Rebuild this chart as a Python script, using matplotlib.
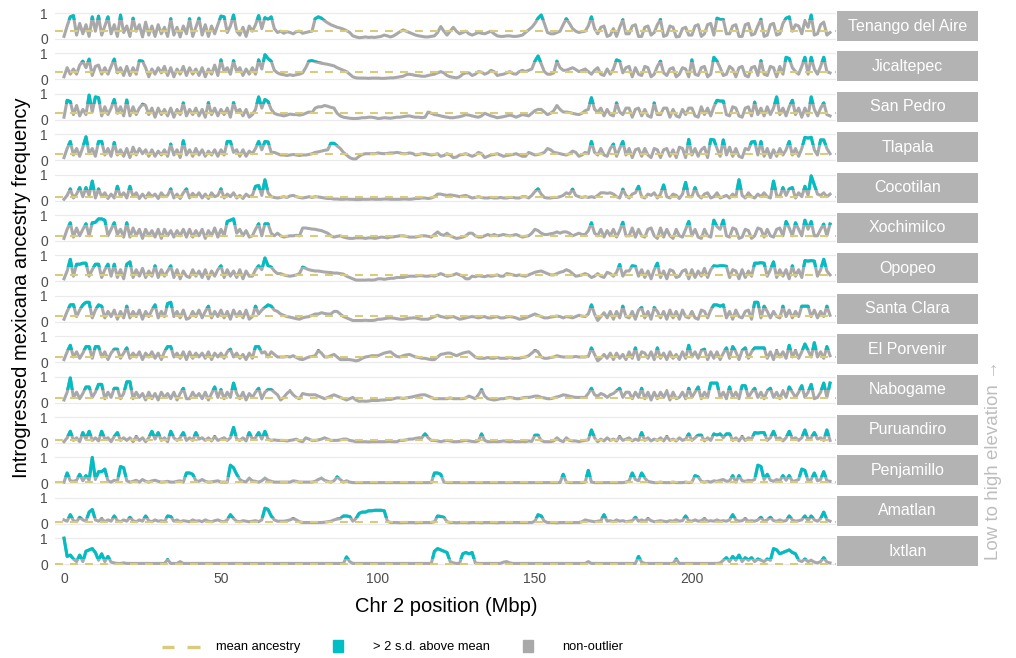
import numpy as np
import matplotlib
matplotlib.use("Agg")
import matplotlib.pyplot as plt
from matplotlib.patches import Rectangle

plt.rcParams['font.family'] = ['Liberation Sans', 'DejaVu Sans']

# ---------------- data: ancestry frequency (%) every 1 Mbp, 0..244 Mbp ----------------
position_mbp = np.arange(0, 245, 1)

tenango = [10, 50, 85, 90, 15, 60, 20, 55, 10, 85, 30, 88, 15, 50, 85, 20, 55, 10, 92, 25,
           50, 10, 80, 30, 55, 8, 65, 15, 50, 10, 55, 20, 45, 10, 78, 15, 45, 8, 50, 20,
           78, 10, 45, 80, 15, 55, 10, 50, 20, 55, 88, 85, 25, 50, 92, 30, 15, 45, 10, 50,
           30, 55, 90, 40, 82, 75, 85, 40, 25, 30, 22, 28, 25, 20, 28, 30, 22, 25, 28, 30,
           78, 85, 80, 70, 62, 55, 50, 45, 42, 38, 32, 25, 12, 8, 5, 6, 8, 6, 7, 6,
           8, 10, 15, 12, 8, 12, 20, 28, 35, 30, 25, 20, 15, 12, 10, 8, 8, 10, 12, 25,
           48, 30, 15, 30, 45, 30, 20, 25, 30, 20, 15, 20, 25, 22, 20, 25, 30, 20, 12, 10,
           10, 12, 12, 10, 10, 12, 15, 25, 35, 45, 60, 80, 92, 60, 25, 20, 20, 25, 30, 55,
           78, 60, 40, 30, 25, 28, 30, 50, 85, 40, 20, 45, 50, 10, 15, 40, 10, 45, 74, 20,
           20, 50, 55, 10, 10, 45, 50, 15, 25, 55, 75, 10, 15, 50, 45, 8, 10, 40, 45, 15,
           15, 50, 55, 10, 20, 55, 60, 15, 80, 75, 75, 20, 20, 50, 55, 10, 10, 55, 60, 15,
           20, 50, 76, 10, 15, 55, 60, 15, 20, 60, 80, 85, 30, 55, 50, 20, 70, 45, 92, 15,
           20, 55, 65, 15, 25]
jicaltepec = [10, 45, 20, 40, 20, 55, 70, 45, 78, 15, 50, 55, 20, 45, 20, 50, 78, 25, 45, 15,
              50, 15, 45, 20, 72, 70, 45, 10, 40, 20, 45, 25, 50, 15, 45, 10, 40, 20, 50, 15,
              45, 20, 40, 15, 45, 10, 40, 20, 55, 15, 75, 30, 45, 20, 72, 30, 45, 15, 40, 20,
              45, 20, 75, 40, 95, 80, 70, 35, 25, 20, 18, 15, 18, 15, 18, 20, 25, 45, 70, 72,
              68, 65, 62, 60, 58, 55, 52, 45, 40, 35, 30, 20, 10, 6, 5, 5, 5, 4, 5, 5,
              5, 4, 4, 5, 6, 6, 8, 10, 12, 18, 20, 18, 15, 14, 12, 12, 15, 18, 20, 25,
              30, 25, 15, 10, 8, 6, 10, 20, 25, 25, 15, 20, 30, 28, 20, 25, 35, 30, 15, 18,
              20, 25, 30, 22, 20, 30, 35, 30, 35, 40, 70, 90, 60, 30, 20, 20, 25, 70, 45, 35,
              35, 40, 45, 38, 30, 35, 40, 30, 20, 35, 45, 20, 15, 40, 20, 40, 75, 70, 25, 45,
              50, 10, 45, 20, 15, 50, 45, 10, 20, 50, 70, 25, 15, 40, 45, 10, 20, 45, 40, 10,
              75, 20, 15, 45, 50, 10, 20, 85, 70, 45, 15, 20, 50, 40, 10, 45, 50, 15, 10, 45,
              50, 15, 72, 20, 15, 50, 45, 10, 50, 20, 85, 80, 45, 30, 20, 50, 85, 20, 85, 40,
              20, 50, 85, 30, 25]
san_pedro = [10, 75, 70, 20, 55, 15, 40, 20, 95, 30, 88, 85, 15, 50, 20, 45, 78, 25, 50, 15,
             76, 15, 50, 20, 45, 60, 55, 20, 45, 10, 45, 20, 40, 15, 45, 10, 40, 20, 65, 15,
             40, 20, 45, 15, 40, 10, 66, 20, 45, 15, 40, 20, 45, 10, 66, 30, 40, 15, 40, 10,
             20, 40, 88, 45, 78, 70, 40, 25, 20, 18, 15, 18, 22, 20, 20, 18, 20, 25, 30, 28,
             45, 50, 50, 55, 52, 48, 45, 25, 15, 10, 8, 6, 5, 5, 6, 8, 8, 10, 10, 8,
             5, 6, 8, 7, 6, 8, 10, 10, 12, 14, 15, 12, 10, 10, 8, 10, 30, 25, 20, 18,
             15, 12, 10, 8, 8, 10, 12, 15, 20, 18, 15, 12, 10, 15, 25, 20, 15, 12, 8, 10,
             12, 15, 18, 15, 10, 15, 20, 18, 15, 25, 35, 40, 40, 30, 20, 25, 35, 55, 40, 30,
             30, 28, 25, 22, 20, 25, 35, 40, 85, 40, 30, 45, 15, 40, 20, 15, 65, 30, 20, 45,
             45, 10, 40, 45, 15, 40, 15, 10, 65, 20, 20, 45, 45, 10, 40, 15, 10, 40, 20, 45,
             45, 15, 10, 50, 20, 45, 15, 50, 75, 72, 72, 20, 15, 50, 45, 15, 10, 45, 50, 15,
             68, 20, 45, 15, 50, 20, 45, 88, 20, 45, 15, 50, 75, 20, 45, 10, 45, 15, 88, 40,
             15, 45, 65, 20, 15]
tlapala = [10, 45, 72, 20, 45, 15, 50, 90, 25, 45, 15, 72, 72, 20, 45, 15, 68, 20, 40, 15,
           45, 10, 50, 20, 45, 25, 40, 15, 40, 15, 35, 20, 40, 15, 62, 20, 40, 10, 75, 20,
           40, 15, 45, 20, 40, 15, 35, 20, 40, 15, 40, 20, 72, 72, 30, 40, 15, 40, 15, 35,
           25, 45, 72, 40, 72, 70, 30, 30, 25, 20, 20, 18, 20, 22, 20, 18, 20, 20, 22, 25,
           30, 32, 35, 38, 40, 65, 65, 55, 45, 30, 20, 10, 5, 5, 15, 22, 25, 25, 25, 25,
           28, 26, 25, 26, 28, 28, 30, 28, 25, 25, 28, 26, 20, 22, 25, 25, 22, 20, 22, 25,
           15, 18, 25, 20, 10, 12, 20, 22, 25, 20, 15, 20, 30, 25, 10, 15, 20, 22, 25, 20,
           15, 18, 20, 22, 25, 20, 15, 15, 30, 25, 20, 22, 25, 30, 45, 40, 30, 28, 25, 22,
           20, 25, 35, 30, 15, 20, 30, 25, 72, 30, 20, 45, 20, 15, 45, 62, 15, 45, 72, 20,
           45, 10, 40, 45, 15, 45, 20, 10, 45, 40, 10, 40, 45, 15, 40, 10, 50, 45, 10, 80,
           20, 45, 15, 40, 50, 10, 80, 78, 45, 15, 78, 20, 50, 15, 45, 15, 10, 45, 40, 70,
           72, 20, 72, 15, 45, 10, 40, 15, 45, 20, 40, 72, 20, 45, 15, 45, 88, 85, 88, 40,
           20, 78, 78, 45, 25]
cocotilan = [5, 20, 45, 10, 25, 50, 15, 50, 20, 75, 10, 45, 15, 30, 8, 25, 10, 55, 15, 30,
             10, 55, 15, 30, 8, 25, 10, 30, 15, 25, 8, 30, 15, 20, 45, 10, 25, 8, 30, 45,
             10, 28, 15, 30, 10, 25, 8, 30, 15, 20, 45, 10, 25, 15, 30, 10, 20, 8, 25, 15,
             20, 55, 58, 20, 80, 30, 15, 12, 10, 12, 15, 12, 18, 20, 15, 12, 10, 12, 15, 12,
             15, 14, 12, 10, 8, 8, 6, 6, 5, 5, 6, 5, 5, 4, 4, 5, 5, 5, 6, 5,
             5, 5, 6, 6, 5, 5, 5, 5, 6, 6, 5, 6, 8, 8, 10, 10, 8, 10, 15, 25,
             25, 22, 20, 22, 20, 18, 15, 18, 20, 15, 10, 12, 15, 12, 10, 10, 12, 10, 10, 12,
             10, 10, 12, 12, 10, 10, 15, 15, 10, 20, 35, 45, 25, 12, 10, 10, 12, 12, 15, 20,
             30, 25, 44, 20, 15, 12, 15, 12, 15, 12, 20, 30, 30, 28, 30, 25, 15, 10, 44, 20,
             10, 25, 30, 55, 15, 10, 25, 20, 30, 10, 25, 60, 15, 10, 25, 20, 8, 25, 70, 15,
             15, 50, 20, 10, 25, 30, 10, 15, 30, 10, 15, 20, 10, 25, 15, 80, 20, 10, 30, 15,
             10, 25, 15, 30, 15, 10, 75, 20, 15, 50, 20, 45, 50, 10, 30, 15, 55, 20, 95, 60,
             25, 20, 30, 15, 25]
xochimilco = [10, 45, 70, 15, 50, 20, 45, 66, 20, 70, 72, 85, 85, 80, 20, 45, 70, 25, 45, 15,
              70, 15, 50, 20, 45, 10, 45, 20, 40, 15, 45, 10, 45, 20, 40, 15, 40, 20, 45, 15,
              45, 15, 40, 20, 45, 10, 40, 20, 50, 15, 45, 20, 75, 80, 85, 30, 45, 20, 40, 15,
              20, 45, 66, 20, 66, 66, 30, 20, 30, 20, 15, 18, 20, 20, 22, 20, 50, 50, 48, 46,
              45, 42, 40, 35, 30, 20, 15, 18, 20, 15, 12, 10, 10, 12, 12, 12, 10, 12, 12, 10,
              12, 15, 14, 12, 15, 16, 18, 20, 20, 18, 15, 15, 15, 18, 20, 20, 18, 15, 25, 35,
              25, 22, 30, 20, 15, 10, 12, 15, 20, 30, 30, 20, 15, 15, 20, 25, 20, 25, 20, 22,
              25, 22, 20, 22, 25, 20, 15, 18, 20, 30, 45, 40, 30, 25, 25, 28, 30, 35, 30, 35,
              35, 30, 20, 25, 30, 25, 25, 40, 70, 30, 20, 45, 15, 40, 20, 45, 15, 40, 72, 20,
              20, 50, 15, 45, 20, 15, 45, 50, 20, 10, 50, 15, 45, 20, 10, 45, 20, 15, 45, 75,
              20, 45, 15, 10, 45, 20, 15, 80, 55, 45, 80, 20, 15, 50, 45, 10, 15, 45, 40, 10,
              20, 50, 45, 15, 45, 20, 15, 45, 50, 20, 75, 50, 20, 70, 45, 20, 80, 45, 75, 20,
              20, 45, 65, 20, 65]
opopeo = [10, 40, 85, 20, 66, 66, 70, 70, 20, 45, 66, 66, 15, 45, 66, 20, 66, 15, 45, 10,
          66, 75, 15, 45, 20, 50, 15, 40, 20, 60, 15, 45, 20, 40, 60, 15, 45, 10, 40, 20,
          15, 45, 20, 40, 15, 45, 10, 40, 20, 45, 60, 15, 45, 20, 40, 15, 45, 10, 40, 20,
          20, 45, 60, 45, 90, 60, 55, 40, 30, 30, 25, 22, 20, 22, 25, 30, 55, 50, 45, 42,
          40, 40, 38, 36, 35, 34, 32, 32, 30, 28, 20, 15, 10, 5, 5, 5, 5, 6, 5, 6,
          10, 10, 8, 10, 12, 12, 15, 15, 15, 18, 20, 20, 20, 22, 22, 20, 20, 22, 20, 25,
          30, 25, 20, 22, 25, 30, 25, 20, 10, 10, 20, 18, 22, 20, 18, 22, 20, 22, 25, 20,
          20, 30, 28, 25, 22, 25, 22, 20, 25, 30, 35, 38, 40, 35, 30, 25, 25, 30, 35, 38,
          45, 40, 30, 20, 22, 25, 30, 25, 15, 20, 30, 20, 15, 35, 30, 20, 35, 65, 20, 40,
          40, 60, 58, 20, 45, 15, 40, 10, 45, 70, 15, 40, 10, 45, 40, 15, 20, 40, 45, 10,
          45, 15, 40, 20, 50, 15, 45, 60, 58, 60, 60, 58, 15, 45, 40, 10, 45, 15, 40, 20,
          70, 70, 72, 70, 20, 45, 75, 15, 45, 20, 45, 10, 60, 20, 45, 15, 80, 78, 80, 78,
          20, 45, 85, 40, 25]
santa_clara = [10, 40, 65, 66, 20, 45, 65, 75, 75, 15, 45, 65, 60, 15, 40, 20, 45, 10, 40, 15,
               60, 15, 40, 20, 45, 10, 40, 20, 45, 65, 15, 40, 20, 70, 75, 20, 40, 15, 45, 10,
               15, 40, 20, 45, 15, 40, 60, 15, 40, 20, 45, 15, 40, 10, 45, 20, 40, 15, 45, 10,
               20, 60, 30, 45, 55, 65, 60, 45, 40, 30, 25, 20, 18, 15, 12, 10, 15, 18, 20, 25,
               30, 30, 35, 32, 30, 30, 40, 40, 30, 20, 15, 10, 5, 5, 5, 5, 6, 5, 5, 6,
               10, 10, 12, 14, 15, 14, 12, 10, 10, 12, 14, 15, 15, 12, 10, 10, 10, 15, 20, 25,
               20, 18, 15, 18, 20, 15, 10, 12, 15, 18, 20, 18, 15, 18, 20, 15, 15, 18, 20, 15,
               15, 18, 20, 18, 15, 10, 12, 15, 20, 25, 30, 25, 20, 15, 15, 18, 20, 22, 20, 15,
               20, 18, 15, 20, 25, 22, 20, 30, 65, 30, 5, 20, 35, 15, 40, 10, 40, 15, 60, 20,
               15, 40, 10, 45, 55, 15, 40, 10, 55, 40, 15, 40, 10, 45, 15, 40, 10, 45, 20, 15,
               40, 15, 10, 45, 40, 15, 45, 65, 65, 60, 65, 15, 40, 10, 45, 20, 15, 40, 45, 10,
               75, 75, 15, 60, 40, 15, 40, 20, 15, 60, 20, 45, 15, 40, 20, 60, 60, 60, 20, 45,
               15, 40, 20, 60, 25]
el_porvenir = [10, 40, 65, 20, 40, 15, 35, 60, 60, 15, 60, 60, 20, 40, 10, 35, 50, 50, 15, 35,
               55, 15, 35, 20, 40, 10, 35, 20, 40, 15, 35, 10, 40, 60, 60, 20, 35, 15, 40, 10,
               40, 15, 35, 20, 35, 15, 40, 10, 35, 20, 35, 15, 40, 50, 20, 35, 15, 30, 10, 35,
               15, 60, 60, 35, 40, 20, 40, 30, 20, 20, 20, 22, 20, 25, 18, 12, 10, 15, 20, 22,
               25, 45, 35, 20, 20, 25, 30, 20, 10, 10, 10, 10, 8, 5, 8, 15, 20, 22, 25, 25,
               25, 30, 35, 38, 40, 30, 22, 20, 25, 28, 30, 25, 20, 18, 15, 15, 12, 10, 10, 20,
               30, 32, 35, 35, 30, 25, 30, 35, 38, 40, 30, 20, 15, 15, 15, 18, 15, 15, 18, 15,
               15, 15, 18, 15, 15, 15, 18, 20, 25, 35, 45, 40, 20, 15, 15, 18, 20, 25, 22, 20,
               20, 20, 20, 22, 20, 20, 20, 22, 55, 30, 5, 15, 30, 15, 35, 10, 35, 15, 30, 10,
               40, 15, 55, 10, 40, 35, 15, 40, 10, 55, 15, 35, 10, 40, 15, 30, 10, 40, 15, 65,
               20, 40, 15, 45, 50, 10, 40, 15, 40, 10, 35, 55, 15, 60, 40, 10, 45, 55, 15, 40,
               55, 55, 55, 55, 15, 40, 10, 45, 20, 40, 15, 65, 20, 45, 15, 40, 70, 45, 20, 75,
               20, 40, 15, 60, 25]
nabogame = [10, 40, 95, 20, 40, 15, 35, 60, 60, 20, 40, 70, 70, 15, 40, 20, 55, 55, 15, 35,
            80, 80, 15, 40, 20, 35, 10, 40, 15, 35, 10, 40, 20, 35, 15, 40, 10, 35, 55, 15,
            15, 40, 20, 35, 15, 40, 10, 35, 60, 20, 50, 15, 40, 20, 75, 35, 15, 40, 10, 35,
            20, 40, 55, 15, 40, 50, 50, 40, 30, 10, 20, 35, 45, 30, 20, 15, 35, 32, 30, 30,
            30, 25, 20, 15, 20, 25, 30, 25, 20, 15, 10, 15, 20, 10, 5, 6, 5, 6, 8, 8,
            8, 10, 10, 12, 12, 15, 18, 18, 16, 18, 20, 22, 25, 28, 30, 30, 25, 20, 15, 15,
            15, 15, 15, 18, 15, 15, 15, 15, 18, 25, 20, 15, 30, 50, 25, 15, 12, 10, 12, 15,
            15, 18, 20, 18, 15, 15, 18, 20, 20, 22, 25, 25, 20, 18, 15, 15, 18, 22, 25, 30,
            28, 25, 22, 20, 20, 20, 20, 35, 55, 30, 25, 35, 30, 20, 30, 35, 45, 55, 20, 40,
            40, 15, 40, 20, 55, 15, 40, 10, 40, 15, 40, 20, 45, 10, 40, 15, 20, 40, 15, 55,
            20, 40, 60, 15, 40, 20, 75, 75, 75, 20, 40, 15, 60, 20, 40, 15, 65, 65, 20, 40,
            55, 20, 40, 15, 45, 55, 20, 40, 15, 45, 20, 60, 40, 20, 40, 65, 20, 40, 70, 15,
            20, 40, 75, 20, 75]
puruandiro = [5, 20, 45, 10, 20, 5, 40, 15, 45, 10, 20, 8, 45, 15, 20, 5, 25, 40, 10, 20,
              10, 20, 5, 25, 10, 20, 5, 20, 45, 15, 40, 10, 20, 5, 45, 20, 10, 20, 40, 10,
              20, 10, 40, 15, 20, 10, 20, 8, 25, 10, 15, 20, 10, 20, 60, 15, 10, 20, 8, 40,
              15, 20, 40, 15, 45, 15, 10, 12, 10, 10, 10, 8, 10, 12, 15, 8, 5, 20, 15, 10,
              10, 12, 15, 20, 15, 10, 10, 10, 12, 15, 15, 10, 8, 5, 5, 5, 5, 4, 5, 5,
              5, 5, 5, 6, 6, 5, 5, 10, 10, 12, 15, 15, 18, 20, 20, 35, 20, 10, 10, 8,
              5, 8, 10, 8, 5, 5, 6, 8, 10, 8, 6, 5, 8, 35, 10, 5, 5, 6, 5, 6,
              8, 6, 5, 6, 5, 5, 6, 5, 8, 6, 30, 30, 10, 5, 5, 5, 8, 20, 10, 5,
              20, 10, 8, 8, 5, 8, 10, 12, 50, 20, 5, 15, 8, 20, 10, 15, 8, 25, 10, 15,
              20, 8, 15, 10, 40, 10, 20, 8, 15, 10, 20, 8, 25, 10, 15, 8, 20, 10, 15, 35,
              10, 20, 30, 30, 8, 20, 10, 35, 30, 35, 20, 35, 35, 10, 20, 8, 25, 10, 20, 15,
              40, 38, 40, 40, 10, 20, 45, 15, 20, 8, 20, 45, 15, 20, 10, 20, 50, 15, 20, 40,
              15, 20, 10, 50, 10]
penjamillo = [5, 40, 10, 8, 12, 35, 10, 30, 12, 100, 15, 45, 45, 55, 10, 5, 12, 8, 65, 60,
              10, 5, 8, 12, 5, 15, 8, 5, 10, 12, 8, 5, 6, 8, 5, 5, 8, 10, 5, 40,
              40, 35, 10, 8, 15, 8, 5, 6, 8, 10, 5, 5, 5, 70, 60, 35, 15, 8, 6, 20,
              10, 8, 5, 10, 20, 12, 8, 5, 5, 5, 5, 5, 5, 10, 8, 5, 5, 5, 5, 5,
              8, 15, 20, 12, 8, 5, 10, 25, 15, 5, 10, 5, 3, 3, 3, 3, 3, 3, 3, 3,
              3, 3, 3, 3, 3, 3, 3, 3, 3, 3, 3, 3, 3, 3, 3, 3, 3, 3, 40, 40,
              35, 5, 3, 3, 3, 3, 3, 3, 3, 3, 3, 3, 3, 3, 3, 3, 3, 3, 3, 3,
              3, 3, 3, 3, 3, 3, 3, 3, 3, 3, 3, 3, 3, 3, 3, 3, 3, 3, 3, 35,
              5, 3, 3, 3, 3, 3, 5, 50, 5, 3, 3, 3, 3, 3, 3, 3, 3, 3, 3, 5,
              10, 40, 15, 10, 40, 20, 8, 5, 3, 3, 5, 3, 3, 3, 5, 3, 3, 3, 5, 3,
              5, 30, 25, 8, 5, 8, 5, 10, 8, 12, 15, 8, 10, 30, 5, 30, 10, 8, 12, 10,
              15, 70, 65, 15, 35, 12, 8, 15, 10, 30, 12, 30, 8, 10, 15, 55, 50, 10, 15, 40,
              10, 15, 45, 10, 8]
amatlan = [15, 10, 35, 12, 8, 25, 15, 10, 45, 55, 15, 10, 20, 8, 15, 10, 30, 12, 8, 15,
           10, 25, 12, 8, 15, 10, 30, 12, 8, 15, 10, 12, 8, 30, 28, 10, 15, 8, 12, 10,
           8, 15, 10, 12, 8, 15, 10, 8, 12, 15, 10, 8, 15, 35, 20, 10, 8, 12, 10, 8,
           10, 12, 8, 15, 60, 55, 30, 15, 10, 10, 10, 12, 15, 20, 15, 8, 5, 5, 5, 5,
           5, 5, 5, 6, 8, 10, 15, 18, 20, 30, 30, 28, 10, 20, 40, 45, 45, 50, 50, 52,
           52, 52, 50, 10, 5, 5, 5, 4, 5, 5, 5, 5, 4, 5, 5, 5, 5, 5, 8, 30,
           28, 25, 8, 5, 5, 4, 5, 5, 5, 4, 5, 5, 5, 4, 5, 5, 5, 5, 4, 5,
           5, 5, 5, 5, 5, 5, 5, 5, 5, 5, 10, 35, 30, 10, 5, 5, 5, 4, 5, 5,
           5, 5, 5, 5, 5, 8, 15, 12, 10, 8, 10, 12, 35, 10, 12, 8, 15, 10, 12, 8,
           10, 12, 25, 10, 15, 10, 20, 12, 8, 10, 12, 10, 8, 12, 10, 15, 10, 12, 30, 12,
           10, 15, 10, 12, 20, 10, 12, 10, 15, 10, 12, 10, 15, 35, 15, 10, 12, 20, 10, 12,
           10, 15, 25, 10, 15, 25, 12, 10, 15, 10, 12, 30, 15, 10, 12, 15, 30, 12, 30, 15,
           10, 20, 45, 15, 10]
ixtlan = [100, 30, 35, 20, 10, 35, 10, 50, 55, 60, 45, 15, 40, 10, 30, 8, 5, 3, 3, 5,
          3, 3, 3, 3, 3, 3, 3, 3, 3, 3, 3, 3, 3, 18, 3, 3, 3, 10, 3, 3,
          3, 3, 3, 3, 3, 3, 3, 3, 3, 3, 3, 3, 3, 3, 3, 3, 3, 3, 3, 3,
          3, 3, 3, 3, 3, 3, 3, 3, 3, 3, 3, 3, 3, 3, 3, 3, 3, 3, 3, 3,
          3, 3, 3, 3, 3, 3, 3, 3, 3, 3, 28, 10, 3, 3, 3, 3, 3, 3, 3, 3,
          3, 3, 3, 3, 3, 3, 3, 3, 3, 3, 3, 3, 3, 3, 3, 3, 3, 3, 50, 60,
          55, 50, 45, 10, 5, 3, 3, 40, 45, 40, 45, 5, 3, 3, 3, 3, 3, 3, 3, 3,
          8, 10, 5, 3, 3, 3, 3, 3, 3, 3, 3, 3, 3, 3, 3, 3, 3, 3, 3, 3,
          3, 3, 3, 3, 3, 3, 3, 10, 3, 3, 3, 3, 3, 3, 3, 3, 3, 3, 3, 3,
          3, 3, 3, 30, 8, 3, 3, 3, 3, 3, 3, 3, 3, 3, 3, 20, 3, 3, 3, 3,
          3, 3, 3, 3, 3, 3, 3, 3, 3, 5, 15, 25, 10, 30, 15, 35, 10, 25, 15, 25,
          10, 20, 15, 10, 20, 15, 60, 55, 40, 45, 50, 55, 45, 40, 15, 10, 20, 10, 15, 8,
          5, 10, 25, 8, 5]

population_names = ["Tenango del Aire", "Jicaltepec", "San Pedro", "Tlapala",
                    "Cocotilan", "Xochimilco", "Opopeo", "Santa Clara",
                    "El Porvenir", "Nabogame", "Puruandiro", "Penjamillo",
                    "Amatlan", "Ixtlan"]
mean_ancestry = [0.30, 0.29, 0.25, 0.24, 0.13, 0.21, 0.23, 0.22,
                 0.19, 0.18, 0.12, 0.04, 0.05, 0.02]
outlier_cutoff = [0.72, 0.68, 0.62, 0.60, 0.42, 0.62, 0.56, 0.52,
                  0.48, 0.47, 0.28, 0.25, 0.24, 0.20]
series = [tenango, jicaltepec, san_pedro, tlapala, cocotilan, xochimilco,
          opopeo, santa_clara, el_porvenir, nabogame, puruandiro,
          penjamillo, amatlan, ixtlan]
x_ticks = [0, 50, 100, 150, 200]

# ---------------- styling ----------------
GRAY = "#A9A9A9"
TEAL = "#00BFC4"
MEANC = "#DACB7C"
STRIP = "#B3B3B3"
GRID = "#EBEBEB"
TICKC = "#4D4D4D"
LW = 2.2

W, H = 1016, 658
fig = plt.figure(figsize=(W / 100, H / 100), dpi=100)

PANEL_L, PANEL_R = 55, 836
STRIP_L, STRIP_R = 837, 978
TOP0, PITCH, PH = 11, 40.4, 30

for k, (name, vals) in enumerate(zip(population_names, series)):
    top = TOP0 + PITCH * k
    ax = fig.add_axes([PANEL_L / W, 1 - (top + PH) / H, (PANEL_R - PANEL_L) / W, PH / H])
    y = np.asarray(vals, dtype=float) / 100.0
    n = min(len(y), len(position_mbp))
    ax.set_xlim(-2.87, 245.9)
    ax.set_ylim(-0.077, 1.077)
    for gy in (0, 1):
        ax.axhline(gy, color=GRID, lw=0.9, zorder=0)
    ax.plot(position_mbp[:n], y[:n], color=GRAY, lw=LW, zorder=2, solid_joinstyle="round")
    teal_line, = ax.plot(position_mbp[:n], y[:n], color=TEAL, lw=LW, zorder=2.5,
                         solid_joinstyle="round")
    clip = Rectangle((-10, outlier_cutoff[k]), 300, 5, transform=ax.transData)
    teal_line.set_clip_path(clip)
    ax.axhline(mean_ancestry[k], color=MEANC, lw=1.5, dashes=(3.8, 3.4), zorder=3)
    for s in ax.spines.values():
        s.set_visible(False)
    ax.set_yticks([0, 1])
    ax.set_yticklabels(["0", "1"])
    ax.tick_params(axis="y", length=0, pad=5, labelsize=10, labelcolor=TICKC)
    ax.set_facecolor("none")
    if k == len(population_names) - 1:
        ax.set_xticks(x_ticks)
        ax.set_xticklabels([str(t) for t in x_ticks])
        ax.tick_params(axis="x", length=0, pad=4, labelsize=10, labelcolor=TICKC)
    else:
        ax.set_xticks([])
    sax = fig.add_axes([STRIP_L / W, 1 - (top + PH) / H, (STRIP_R - STRIP_L) / W, PH / H])
    sax.set_facecolor(STRIP)
    sax.set_xticks([]); sax.set_yticks([])
    for s in sax.spines.values():
        s.set_visible(False)
    sax.text(0.5, 0.5, name, color="white", fontsize=11.5, ha="center", va="center",
             transform=sax.transAxes)

fig.text(22 / W, 1 - 288 / H, "Introgressed mexicana ancestry frequency", rotation=90,
         ha="center", va="center", fontsize=14.5, color="black")
fig.text(446 / W, 1 - 606 / H, "Chr 2 position (Mbp)", ha="center", va="center",
         fontsize=14.5, color="black")
fig.text(993 / W, 1 - 460 / H, "Low to high elevation \u2192", rotation=90,
         ha="center", va="center", fontsize=13.5, color="#BEBEBE")

lax = fig.add_axes([0, 0, 1, 1])
lax.set_xlim(0, W)
lax.set_ylim(H, 0)
lax.axis("off")
lax.plot([162, 174], [647, 647], color=MEANC, lw=2.4, solid_capstyle="butt")
lax.plot([187, 200], [647, 647], color=MEANC, lw=2.4, solid_capstyle="butt")
lax.text(216, 647, "mean ancestry", va="center", ha="left", fontsize=9.3)
lax.add_patch(Rectangle((333, 640), 10, 12, color=TEAL))
lax.text(373, 647, "> 2 s.d. above mean", va="center", ha="left", fontsize=9.3)
lax.add_patch(Rectangle((523, 640), 10, 12, color=GRAY))
lax.text(562, 647, "non-outlier", va="center", ha="left", fontsize=9.3)

fig.savefig("out.png", dpi=100)
